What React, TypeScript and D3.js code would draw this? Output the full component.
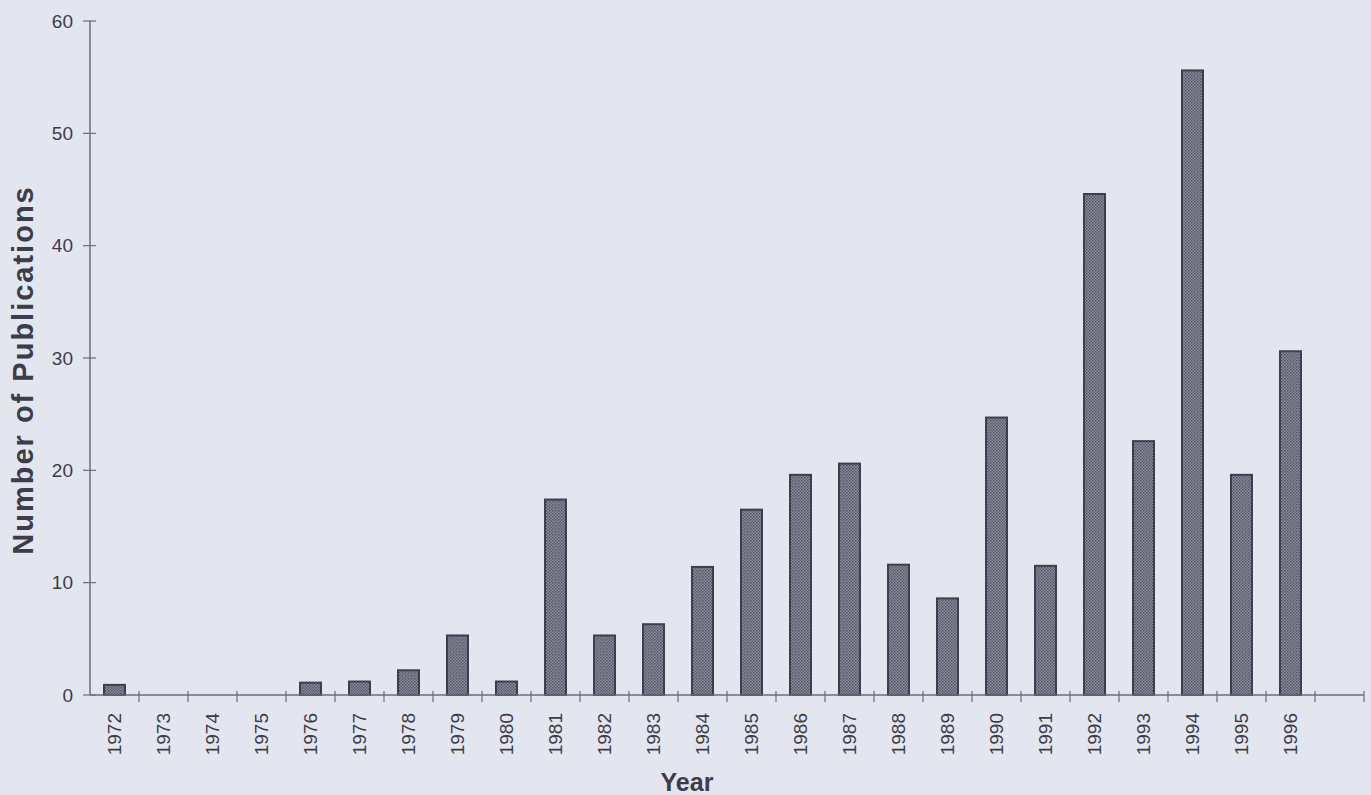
import { useEffect, useRef } from 'react';
import * as d3 from 'd3';

// Publications per year
const years = [
  '1972', '1973', '1974', '1975', '1976', '1977', '1978', '1979', '1980',
  '1981', '1982', '1983', '1984', '1985', '1986', '1987', '1988', '1989',
  '1990', '1991', '1992', '1993', '1994', '1995', '1996',
];
const counts = [
  0.9, 0, 0, 0, 1.1, 1.2, 2.2, 5.3, 1.2,
  17.4, 5.3, 6.3, 11.4, 16.5, 19.6, 20.6, 11.6, 8.6,
  24.7, 11.5, 44.6, 22.6, 55.6, 19.6, 30.6,
];
const yTicks = [0, 10, 20, 30, 40, 50, 60];

export default function App() {
  const svgRef = useRef<SVGSVGElement>(null);

  useEffect(() => {
    if (!svgRef.current) return;
    d3.select(svgRef.current).selectAll('*').remove();

    const width = 1371;
    const height = 795;
    const left = 90;
    const right = 1364;
    const base = 695;
    const top = 21;
    const ink = '#3c3c4a';
    const font = '"Liberation Sans", Arial, Helvetica, sans-serif';

    const svg = d3.select(svgRef.current)
      .attr('width', width)
      .attr('height', height);

    svg.append('rect')
      .attr('width', width)
      .attr('height', height)
      .attr('fill', '#e3e6ee');

    // stipple texture for the bars
    const pat = svg.append('defs').append('pattern')
      .attr('id', 'stip')
      .attr('patternUnits', 'userSpaceOnUse')
      .attr('width', 3)
      .attr('height', 3);
    pat.append('rect').attr('width', 3).attr('height', 3).attr('fill', '#8e8e9e');
    pat.append('rect').attr('width', 1.5).attr('height', 1.5).attr('fill', '#50505f');
    pat.append('rect').attr('x', 1.5).attr('y', 1.5).attr('width', 1.5).attr('height', 1.5).attr('fill', '#5c5c6e');

    // one spare band after 1996, as in the original axis
    const x = d3.scaleBand<string>()
      .domain([...years, ''])
      .range([left, right])
      .paddingInner(0)
      .paddingOuter(0);

    const y = d3.scaleLinear()
      .domain([0, 60])
      .range([base, top]);

    const barW = 21;

    // bars
    svg.append('g')
      .selectAll('rect')
      .data(counts)
      .join('rect')
      .attr('x', (d, i) => (x(years[i]) as number) + x.bandwidth() / 2 - barW / 2)
      .attr('y', d => y(d))
      .attr('width', barW)
      .attr('height', d => base - y(d))
      .attr('fill', 'url(#stip)')
      .attr('stroke', d => (d > 0 ? '#3e3e4f' : 'none'))
      .attr('stroke-width', 2);

    const axisColor = '#6c6c7c';

    // y axis
    const yAxis = svg.append('g');
    yAxis.append('line')
      .attr('x1', left).attr('x2', left)
      .attr('y1', top).attr('y2', base)
      .attr('stroke', axisColor).attr('stroke-width', 1.5);
    yAxis.selectAll('line.tick')
      .data(yTicks)
      .join('line')
      .attr('class', 'tick')
      .attr('x1', left - 7).attr('x2', left + 6)
      .attr('y1', d => y(d)).attr('y2', d => y(d))
      .attr('stroke', axisColor).attr('stroke-width', 1.2);
    yAxis.selectAll('text')
      .data(yTicks)
      .join('text')
      .attr('x', left - 17)
      .attr('y', d => y(d))
      .attr('dy', '0.35em')
      .attr('text-anchor', 'end')
      .attr('font-family', font)
      .attr('font-size', 19)
      .attr('fill', ink)
      .text(d => d);

    // x axis
    const xAxis = svg.append('g');
    xAxis.append('line')
      .attr('x1', left).attr('x2', right)
      .attr('y1', base).attr('y2', base)
      .attr('stroke', axisColor).attr('stroke-width', 1.5);
    const bounds = d3.range(1, years.length + 2).map(i => left + i * x.step());
    xAxis.selectAll('line.tick')
      .data(bounds)
      .join('line')
      .attr('class', 'tick')
      .attr('x1', d => Math.min(d, right)).attr('x2', d => Math.min(d, right))
      .attr('y1', base - 4).attr('y2', base + 7)
      .attr('stroke', axisColor).attr('stroke-width', 1.2);
    xAxis.selectAll('text')
      .data(years)
      .join('text')
      .attr('transform', d => `translate(${(x(d) as number) + x.bandwidth() / 2 + 6.5},${base + 18}) rotate(-90)`)
      .attr('text-anchor', 'end')
      .attr('font-family', font)
      .attr('font-size', 19)
      .attr('fill', ink)
      .text(d => d);

    // titles
    svg.append('text')
      .attr('x', 687)
      .attr('y', 791)
      .attr('text-anchor', 'middle')
      .attr('font-family', font)
      .attr('font-weight', 'bold')
      .attr('font-size', 25)
      .attr('fill', ink)
      .text('Year');

    svg.append('text')
      .attr('transform', `translate(33,370) rotate(-90)`)
      .attr('text-anchor', 'middle')
      .attr('font-family', font)
      .attr('font-weight', 'bold')
      .attr('font-size', 29)
      .attr('letter-spacing', 2)
      .attr('fill', ink)
      .text('Number of Publications');
  }, []);

  return (
    <div style={{ position: 'absolute', left: 0, top: 0 }}>
      <svg ref={svgRef}></svg>
    </div>
  );
}
